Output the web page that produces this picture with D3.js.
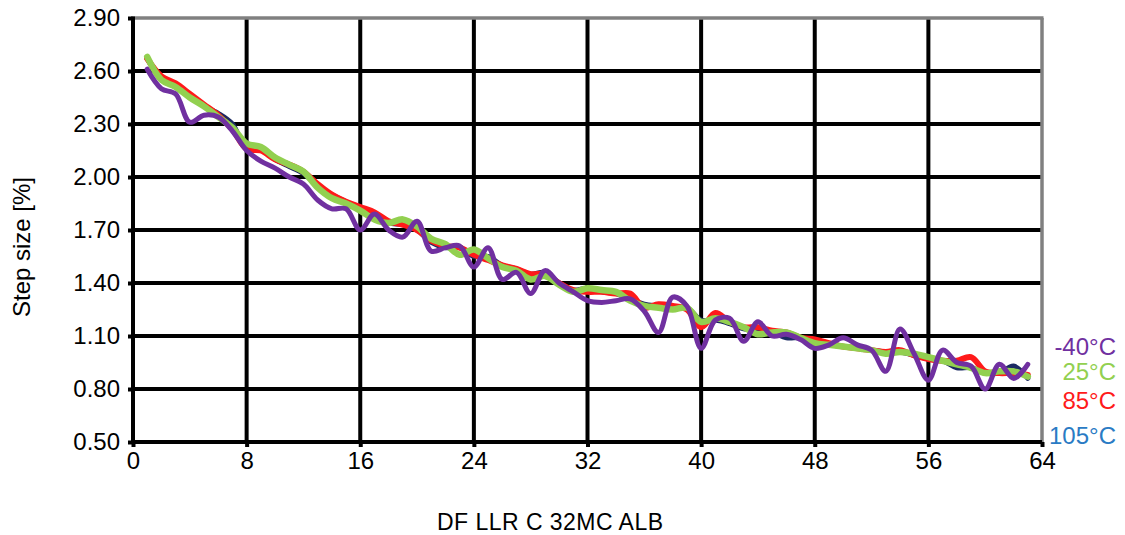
<!DOCTYPE html>
<html><head><meta charset="utf-8">
<script src="https://cdn.jsdelivr.net/npm/d3@7"></script>
<style>body{margin:0;background:#fff}svg{display:block}text{font-family:"Liberation Sans",Arial,sans-serif}</style>
</head><body>
<svg id="c" width="1125" height="535"></svg>
<script>
const xTicks = [0, 8, 16, 24, 32, 40, 48, 56, 64];
const yTicks = [0.50, 0.80, 1.10, 1.40, 1.70, 2.00, 2.30, 2.60, 2.90];
const xValues = d3.range(1, 64);
const seriesNames = ["105°C", "85°C", "25°C", "-40°C"];
const s105 = [2.67,2.56,2.52,2.46,2.40,2.36,2.30,2.16,2.16,2.10,2.06,2.02,1.95,1.90,1.86,1.82,1.78,1.74,1.73,1.70,1.63,1.60,1.60,1.55,1.55,1.50,1.48,1.45,1.46,1.40,1.36,1.37,1.35,1.34,1.31,1.28,1.27,1.26,1.26,1.19,1.19,1.17,1.14,1.13,1.12,1.09,1.09,1.07,1.05,1.04,1.03,1.02,1.01,1.01,0.99,0.97,0.96,0.92,0.92,0.89,0.89,0.93,0.86];
const s85 = [2.67,2.57,2.53,2.47,2.41,2.35,2.27,2.16,2.15,2.10,2.07,2.03,1.96,1.90,1.86,1.83,1.80,1.75,1.73,1.70,1.64,1.61,1.60,1.56,1.53,1.50,1.48,1.45,1.45,1.40,1.36,1.35,1.35,1.34,1.34,1.26,1.28,1.27,1.25,1.15,1.23,1.18,1.15,1.15,1.13,1.12,1.09,1.08,1.06,1.04,1.03,1.02,1.01,1.02,0.99,0.97,0.96,0.96,0.98,0.90,0.89,0.89,0.88];
const s25 = [2.68,2.55,2.51,2.45,2.40,2.34,2.28,2.19,2.17,2.11,2.07,2.03,1.94,1.88,1.85,1.81,1.76,1.74,1.76,1.72,1.65,1.62,1.56,1.59,1.54,1.49,1.47,1.42,1.44,1.39,1.35,1.37,1.36,1.35,1.30,1.27,1.26,1.25,1.26,1.18,1.20,1.18,1.15,1.11,1.12,1.12,1.09,1.06,1.05,1.04,1.03,1.02,1.00,1.01,1.00,0.98,0.96,0.94,0.92,0.89,0.90,0.90,0.87];
const sM40 = [2.61,2.50,2.47,2.31,2.35,2.34,2.26,2.15,2.09,2.05,2.00,1.96,1.87,1.82,1.82,1.70,1.79,1.70,1.66,1.75,1.58,1.60,1.61,1.49,1.60,1.42,1.46,1.34,1.47,1.40,1.35,1.30,1.29,1.30,1.31,1.24,1.12,1.32,1.27,1.03,1.19,1.20,1.07,1.18,1.10,1.11,1.08,1.03,1.05,1.09,1.05,1.02,0.90,1.14,1.00,0.85,1.02,0.95,0.93,0.80,0.94,0.86,0.94];
const lineColors = ["#1b2a63", "#ff1a1a", "#92d050", "#7030a0"];
const lineWidths = [5, 6, 6.5, 5];
const labelColors = ["#2a7bc4", "#ff1a1a", "#92d050", "#7030a0"];
const allSeries = [s105, s85, s25, sM40];

const svg = d3.select("#c");
const L = 133, R = 1042, T = 18, B = 442;
const x = d3.scaleLinear().domain([0, 64]).range([L, R]);
const y = d3.scaleLinear().domain([0.5, 2.9]).range([B, T]);
const FS = "24px";

// grid
const g = svg.append("g");
g.selectAll(".hg").data(yTicks.slice(1, -1)).join("line")
  .attr("x1", L).attr("x2", R).attr("y1", d => y(d)).attr("y2", d => y(d))
  .attr("stroke", "#000").attr("stroke-width", 4);
g.selectAll(".vg").data(xTicks.slice(1, -1)).join("line")
  .attr("y1", T).attr("y2", B).attr("x1", d => x(d)).attr("x2", d => x(d))
  .attr("stroke", "#000").attr("stroke-width", 4);
g.append("line").attr("x1", L).attr("x2", R + 1.5).attr("y1", T).attr("y2", T).attr("stroke", "#808080").attr("stroke-width", 3.5);
g.append("line").attr("x1", R).attr("x2", R).attr("y1", T).attr("y2", B).attr("stroke", "#808080").attr("stroke-width", 3.5);

// axes
const yAxis = d3.axisLeft(y).tickValues(yTicks).tickFormat(d3.format(".2f")).tickSize(5).tickPadding(8);
const ya = svg.append("g").attr("transform", `translate(${L},0)`).call(yAxis);
const xAxis = d3.axisBottom(x).tickValues(xTicks).tickFormat(d3.format("d")).tickSize(5).tickPadding(5);
const xa = svg.append("g").attr("transform", `translate(0,${B})`).call(xAxis);
[ya, xa].forEach(a => {
  a.select(".domain").remove();
  a.selectAll(".tick line").attr("stroke", "#000").attr("stroke-width", 4);
  a.selectAll(".tick text").attr("fill", "#000").style("font-size", FS).style("font-family", "'Liberation Sans', Arial, sans-serif");
});
svg.append("line").attr("x1", L).attr("x2", L).attr("y1", T - 1.5).attr("y2", B + 2).attr("stroke", "#000").attr("stroke-width", 4);
svg.append("line").attr("x1", L - 2).attr("x2", R).attr("y1", B).attr("y2", B).attr("stroke", "#000").attr("stroke-width", 4);

// lines
const line = d3.line().x((d, i) => x(xValues[i])).y(d => y(d)).curve(d3.curveCatmullRom.alpha(0.5));
allSeries.forEach((s, i) => {
  svg.append("path").datum(s).attr("d", line).attr("fill", "none")
    .attr("stroke", lineColors[i]).attr("stroke-width", lineWidths[i])
    .attr("stroke-linejoin", "round").attr("stroke-linecap", "round");
});

// legend labels at right
const legendY = [444, 409, 380, 355];
seriesNames.forEach((n, i) => {
  svg.append("text").attr("x", 1116).attr("y", legendY[i]).attr("text-anchor", "end")
    .attr("fill", labelColors[i]).style("font-size", FS).text(n);
});

// axis titles
svg.append("text").attr("transform", "translate(30,247) rotate(-90)").attr("text-anchor", "middle")
  .style("font-size", FS).attr("fill", "#000").text("Step size [%]");
svg.append("text").attr("x", 550).attr("y", 530).attr("text-anchor", "middle")
  .style("font-size", "23px").attr("fill", "#000").attr("textLength", 226).text("DF LLR C 32MC ALB");
</script>
</body></html>
